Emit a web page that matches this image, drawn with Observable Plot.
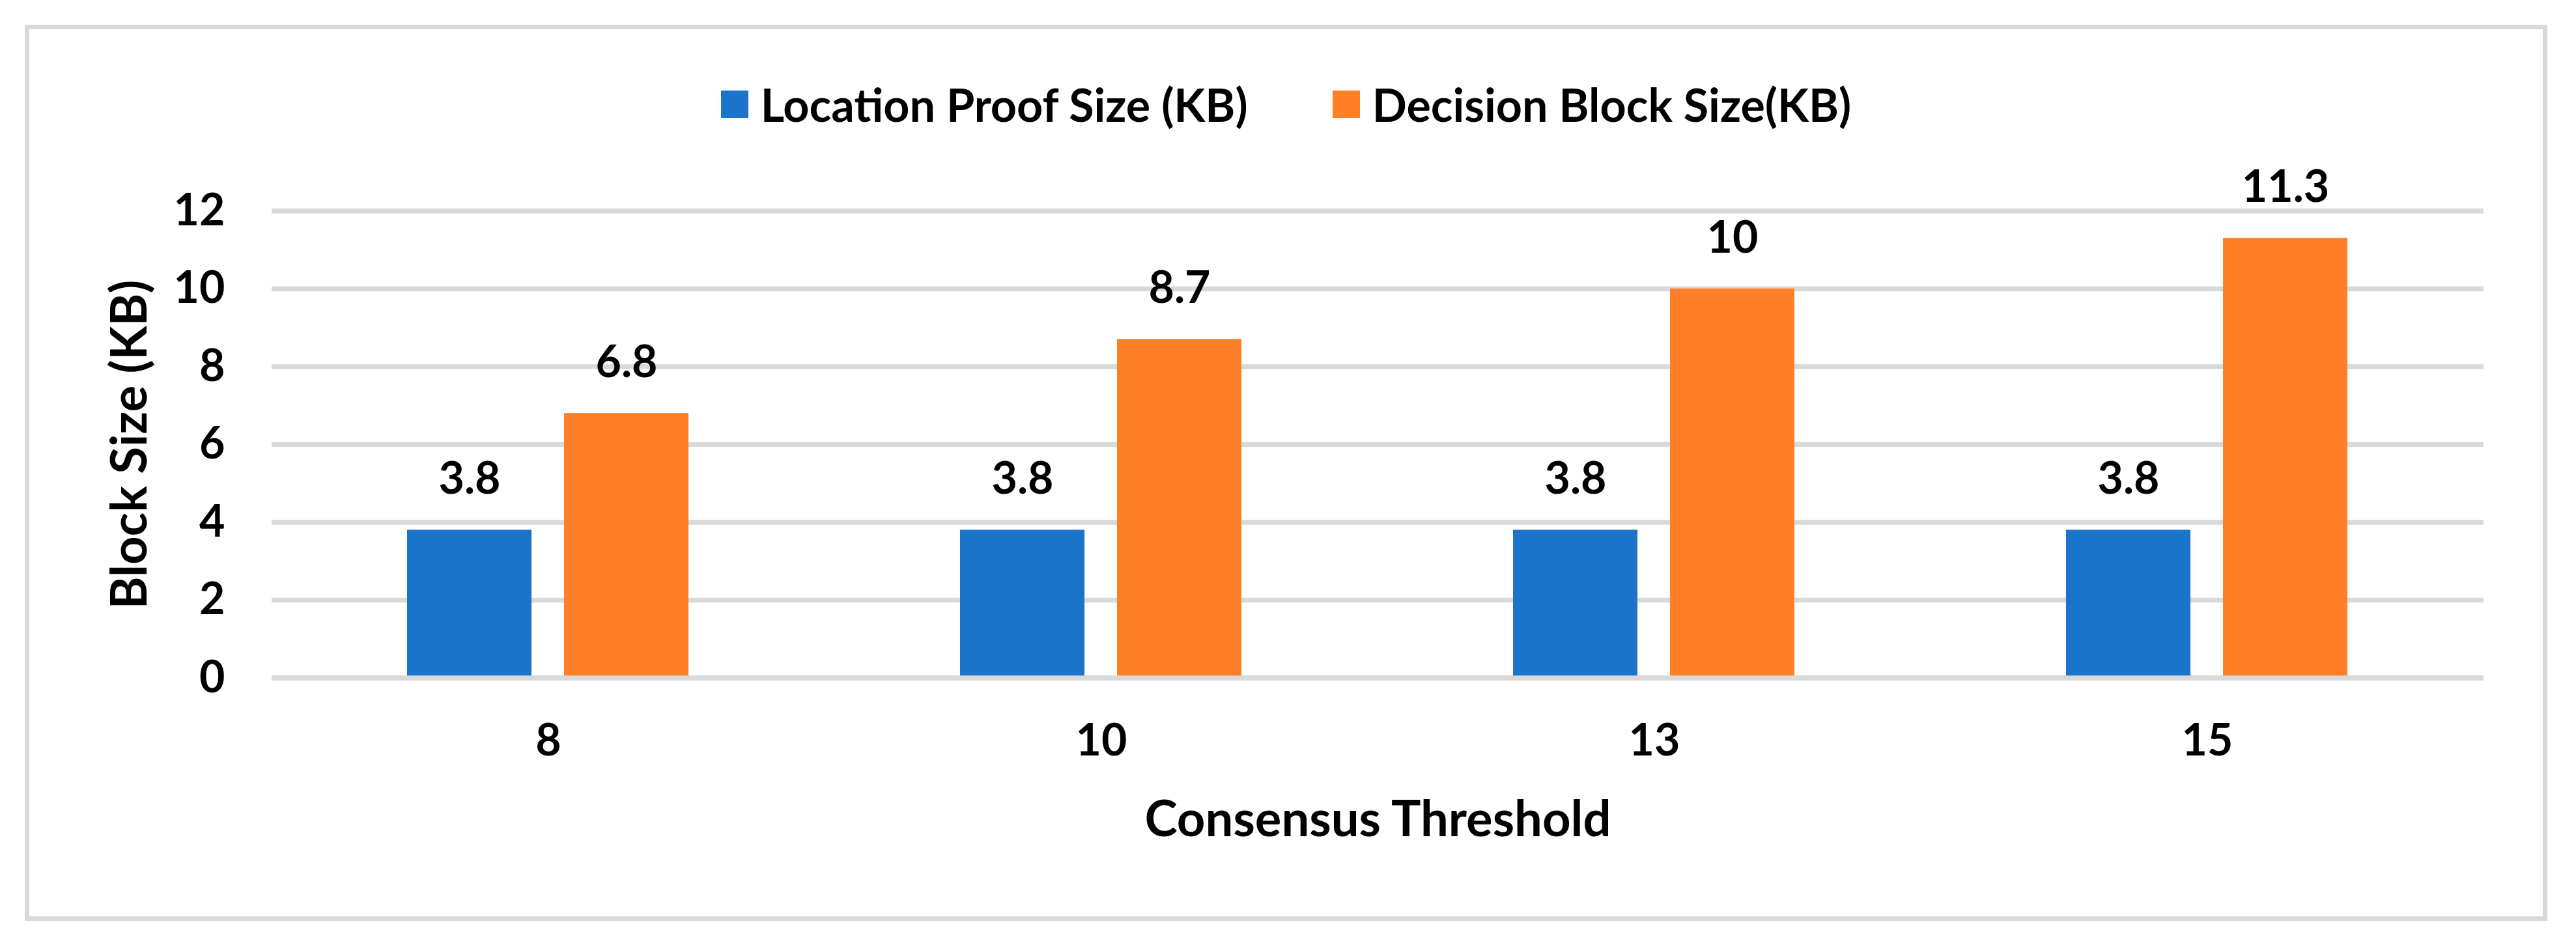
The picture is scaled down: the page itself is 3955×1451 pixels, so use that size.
<!DOCTYPE html>
<html>
<head>
<meta charset="utf-8">
<script src="https://cdn.jsdelivr.net/npm/d3@7"></script>
<script src="https://cdn.jsdelivr.net/npm/@observablehq/plot@0.6"></script>
<style>
  html, body { margin: 0; padding: 0; background: #fff; }
  #wrap { position: relative; width: 3955px; height: 1451px; overflow: hidden; font-family: Lato, sans-serif; }
  #border { position: absolute; left: 38px; top: 38px; width: 3873px; height: 1376px; box-sizing: border-box; border: 7px solid #d9d9d9; }
  #chart { position: absolute; left: 0; top: 0; }
  #legend { position: absolute; left: 38px; width: 3873px; top: 118px; height: 84px; display: flex; justify-content: center; align-items: center; }
  #legend .lg-swatches { margin: 0 !important; font-family: Lato, sans-serif !important; font-size: 70px !important; font-weight: bold; color: #000; min-height: 0 !important; }
  #legend .lg-swatch { margin-right: 130px !important; }
  #legend .lg-swatch:last-child { margin-right: 0 !important; }
  #legend .lg-swatch > svg { margin-right: 19px !important; }
  #chart g[aria-label="y-axis label"], #chart g[aria-label="fx-axis label"] { font-size: 76px; }
</style>
</head>
<body>
<div id="wrap">
  <div id="border"></div>
  <div id="chart"></div>
  <div id="legend"></div>
</div>
<script>
// ---- data ----
const thresholds = ["8", "10", "13", "15"];
const seriesNames = ["Location Proof Size (KB)", "Decision Block Size(KB)"];
const locationProof = [3.8, 3.8, 3.8, 3.8];
const decisionBlock = [6.8, 8.7, 10, 11.3];
const yTicks = [0, 2, 4, 6, 8, 10, 12];
const seriesColors = ["#1a74c9", "#fe7f28"];
const xTitle = "Consensus Threshold";
const yTitle = "Block Size (KB)";

const rows = thresholds.flatMap((t, i) => [
  {t, s: seriesNames[0], v: locationProof[i]},
  {t, s: seriesNames[1], v: decisionBlock[i]}
]);

const chart = Plot.plot({
  width: 3955,
  height: 1451,
  marginLeft: 416,
  marginRight: 141,
  marginTop: 323.5,
  marginBottom: 410.5,
  style: {fontFamily: "Lato, sans-serif", fontWeight: "bold", fontSize: "68px", color: "#000", background: "transparent", overflow: "visible"},
  fx: {domain: thresholds, padding: 0, label: xTitle},
  x: {domain: seriesNames, paddingInner: 0.207, paddingOuter: 0.863, axis: null},
  y: {domain: [0, 12], label: yTitle},
  color: {domain: seriesNames, range: seriesColors},
  marks: [
    Plot.gridY(yTicks, {stroke: "#d9d9d9", strokeWidth: 7.5, strokeOpacity: 1}),
    Plot.barY(rows, {fx: "t", x: "s", y: "v", fill: "s"}),
    Plot.ruleY([0], {stroke: "#d9d9d9", strokeWidth: 7.5}),
    Plot.text(rows, {fx: "t", x: "s", y: "v", text: d => String(d.v), lineAnchor: "bottom", dy: -56, fill: "#000"}),
    Plot.axisY(yTicks, {tickSize: 0, tickPadding: 72, tickFormat: d => String(d), label: yTitle, labelAnchor: "center", labelOffset: 246, labelArrow: "none", fill: "#000"}),
    Plot.axisFx({anchor: "bottom", tickSize: 0, tickPadding: 71, label: xTitle, labelAnchor: "center", labelOffset: 243, labelArrow: "none", fill: "#000"})
  ]
});
document.getElementById("chart").appendChild(chart);

const legend = Plot.legend({
  color: {domain: seriesNames, range: seriesColors},
  legend: "swatches",
  swatchSize: 42,
  className: "lg"
});
document.getElementById("legend").appendChild(legend);
</script>
</body>
</html>
